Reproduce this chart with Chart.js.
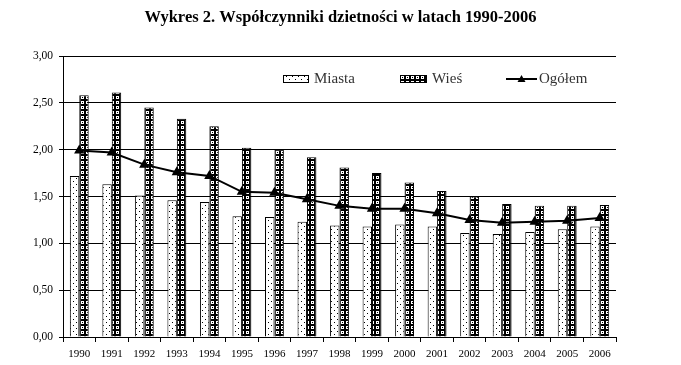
<!DOCTYPE html>
<html>
<head>
<meta charset="utf-8">
<script src="https://cdn.jsdelivr.net/npm/chart.js@4"></script>
<style>
  body { margin: 0; background: #fff; }
  canvas { display: block; }
</style>
</head>
<body>
<canvas id="chart" width="681" height="365"></canvas>
<script>
var years = ["1990", "1991", "1992", "1993", "1994", "1995", "1996", "1997", "1998",
    "1999", "2000", "2001", "2002", "2003", "2004", "2005", "2006"];
var miasta = [1.72, 1.63, 1.51, 1.46, 1.44, 1.29, 1.28, 1.23, 1.19, 1.18, 1.20, 1.18, 1.11, 1.10, 1.12, 1.15, 1.18];
var wies = [2.58, 2.61, 2.45, 2.33, 2.25, 2.02, 2.00, 1.92, 1.81, 1.75, 1.65, 1.56, 1.50, 1.42, 1.40, 1.40, 1.41];
var ogolem = [1.99, 1.97, 1.84, 1.76, 1.72, 1.55, 1.54, 1.47, 1.40, 1.37, 1.37, 1.32, 1.25, 1.22, 1.23, 1.24, 1.27];
var seriesNames = ["Miasta", "Wieś", "Ogółem"];
var titleText = "Wykres 2. Współczynniki dzietności w latach 1990-2006";

var serif = "'Liberation Serif', 'DejaVu Serif', serif";

function dotPattern() {
    var c = document.createElement("canvas");
    c.width = 6; c.height = 6;
    var g = c.getContext("2d");
    g.fillStyle = "#fff";
    g.fillRect(0, 0, 6, 6);
    g.fillStyle = "#000";
    g.fillRect(1, 1, 1, 1);
    g.fillRect(4, 4, 1, 1);
    return g.createPattern(c, "repeat");
}

// black with small white rings
function ringPattern() {
    var c = document.createElement("canvas");
    c.width = 5; c.height = 5;
    var g = c.getContext("2d");
    g.fillStyle = "#000";
    g.fillRect(0, 0, 5, 5);
    g.fillStyle = "#fff";
    g.fillRect(1, 1, 3, 1);
    g.fillRect(1, 3, 3, 1);
    g.fillRect(1, 2, 1, 1);
    g.fillRect(3, 2, 1, 1);
    return g.createPattern(c, "repeat");
}

var fillMiasta = dotPattern();
var fillWies = ringPattern();

// title centred on the page + legend drawn inside the plot area, like the original
var titleAndLegend = {
    id: "titleAndLegend",
    afterDraw: function (chart) {
        var ctx = chart.ctx;
        ctx.save();
        ctx.fillStyle = "#000";
        ctx.font = "bold 16.5px " + serif;
        ctx.textAlign = "center";
        ctx.textBaseline = "middle";
        ctx.fillText(titleText, 340.5, 18);

        var y = 79;
        ctx.textAlign = "left";
        ctx.font = "15px " + serif;
        ctx.lineWidth = 1;
        ctx.strokeStyle = "#000";

        ctx.fillStyle = fillMiasta;
        ctx.fillRect(283, 75, 25, 7);
        ctx.strokeRect(283.5, 75.5, 25, 7);
        ctx.fillStyle = "#333";
        ctx.fillText(seriesNames[0], 314, y);

        ctx.fillStyle = fillWies;
        ctx.fillRect(400, 75, 26, 7);
        ctx.strokeRect(400.5, 75.5, 26, 7);
        ctx.fillStyle = "#333";
        ctx.fillText(seriesNames[1], 432, y);

        ctx.lineWidth = 2;
        ctx.beginPath();
        ctx.moveTo(506, y);
        ctx.lineTo(537, y);
        ctx.stroke();
        ctx.fillStyle = "#000";
        ctx.beginPath();
        ctx.moveTo(521.5, y - 4);
        ctx.lineTo(525.5, y + 3);
        ctx.lineTo(517.5, y + 3);
        ctx.closePath();
        ctx.fill();
        ctx.fillStyle = "#333";
        ctx.fillText(seriesNames[2], 539, y);
        ctx.restore();
    }
};

new Chart(document.getElementById("chart"), {
    type: "bar",
    data: {
        labels: years,
        datasets: [{
            type: "line",
            label: seriesNames[2],
            data: ogolem,
            borderColor: "#000",
            backgroundColor: "#000",
            borderWidth: 2,
            tension: 0,
            pointStyle: "triangle",
            pointRadius: 4,
            pointBackgroundColor: "#000",
            pointBorderColor: "#000",
            order: 0
        }, {
            label: seriesNames[0],
            data: miasta,
            backgroundColor: fillMiasta,
            borderColor: "#000",
            borderWidth: 1,
            order: 1
        }, {
            label: seriesNames[1],
            data: wies,
            backgroundColor: fillWies,
            borderColor: "#000",
            borderWidth: 1,
            order: 1
        }]
    },
    options: {
        responsive: false,
        animation: false,
        devicePixelRatio: 1,
        layout: {
            padding: { left: 0, right: 65, top: 56, bottom: 0 }
        },
        datasets: {
            bar: {
                barPercentage: 1,
                categoryPercentage: 0.58
            }
        },
        plugins: {
            legend: { display: false },
            tooltip: { enabled: false },
            title: { display: false }
        },
        scales: {
            x: {
                grid: {
                    offset: true,
                    drawOnChartArea: false,
                    drawTicks: true,
                    tickLength: 5,
                    color: "#000"
                },
                border: { display: true, color: "#000", width: 1 },
                ticks: {
                    color: "#000",
                    maxRotation: 0,
                    autoSkip: false,
                    padding: 6,
                    font: { family: serif, size: 11 }
                },
                afterFit: function (scale) { scale.height = 28; }
            },
            y: {
                min: 0,
                max: 3,
                grid: {
                    color: "#000",
                    lineWidth: 1,
                    drawTicks: true,
                    tickLength: 4
                },
                border: { display: true, color: "#000", width: 1 },
                ticks: {
                    stepSize: 0.5,
                    color: "#000",
                    padding: 6,
                    font: { family: serif, size: 11.5 },
                    callback: function (v) { return v.toFixed(2).replace(".", ","); }
                },
                afterFit: function (scale) { scale.width = 63; }
            }
        }
    },
    plugins: [titleAndLegend]
});
</script>
</body>
</html>
